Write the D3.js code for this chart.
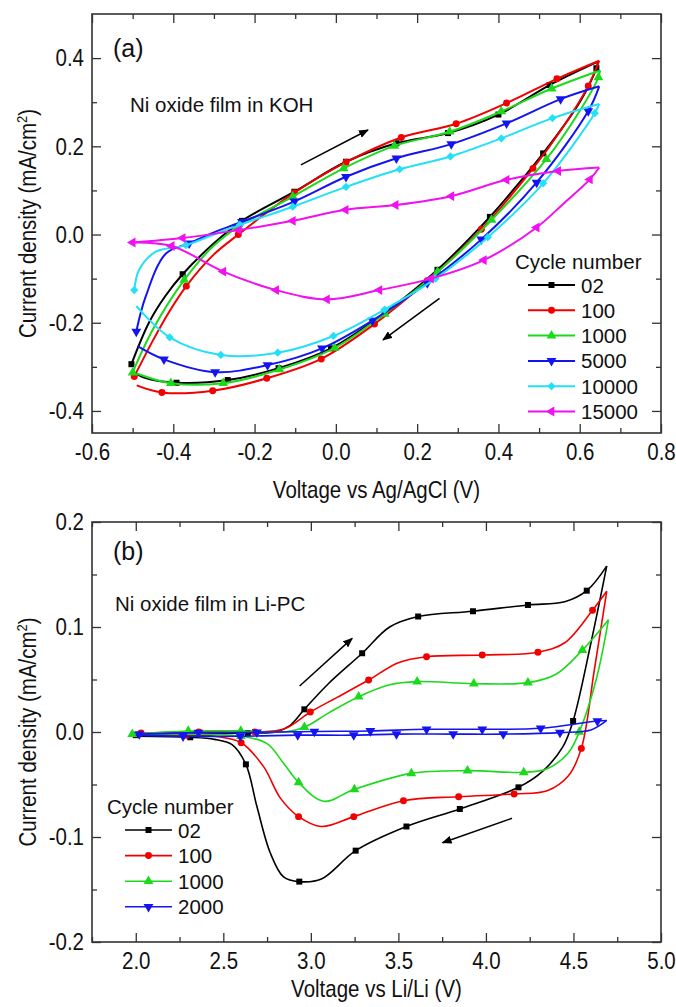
<!DOCTYPE html>
<html>
<head>
<meta charset="utf-8">
<script src="https://cdn.jsdelivr.net/npm/d3@7/dist/d3.min.js"></script>
<style>
  body { margin: 0; background: #fff; }
  svg text { font-family: "Liberation Sans", Arial, sans-serif; fill: #111; }
  .tall { transform-box: fill-box; transform-origin: center; transform: scaleY(1.18); }
</style>
</head>
<body>
<div id="chart"></div>
<script>
// ---- panel (a): Ni oxide film in KOH, [V vs Ag/AgCl, mA/cm2, has symbol] ----
const cyclesA = ["02", "100", "1000", "5000", "10000", "15000"];
const koh02 = [[-0.503,-0.294,1],[-0.46,-0.2,0],[-0.42,-0.14,0],[-0.377,-0.09,1],[-0.3,-0.02,0],[-0.231,0.031,1],
  [-0.102,0.097,1],[0.025,0.165,1],[0.149,0.207,1],[0.276,0.23,1],[0.40,0.272,1],[0.526,0.339,1],[0.645,0.392,0],
  [0.641,0.377,1],[0.6,0.3,0],[0.51,0.184,1],[0.44,0.105,0],[0.379,0.04,1],[0.25,-0.08,1],[0.12,-0.178,1],
  [-0.012,-0.258,1],[-0.141,-0.303,1],[-0.266,-0.33,1],[-0.392,-0.336,1],[-0.47,-0.325,0],[-0.5,-0.31,0]];
const koh100 = [[-0.496,-0.322,1],[-0.45,-0.24,0],[-0.41,-0.175,0],[-0.368,-0.117,1],[-0.3,-0.045,0],[-0.24,0.0,1],
  [-0.17,0.05,0],[-0.102,0.095,1],[0.025,0.164,1],[0.161,0.22,1],[0.296,0.251,1],[0.42,0.298,1],[0.544,0.353,1],
  [0.648,0.394,0],[0.621,0.337,1],[0.56,0.245,0],[0.485,0.15,1],[0.358,0.012,1],[0.225,-0.105,1],[0.095,-0.203,1],
  [-0.036,-0.282,1],[-0.17,-0.326,1],[-0.303,-0.354,1],[-0.428,-0.358,1],[-0.49,-0.342,0]];
const koh1000 = [[-0.5,-0.313,1],[-0.45,-0.215,0],[-0.373,-0.103,1],[-0.3,-0.025,0],[-0.24,0.018,1],[-0.106,0.086,1],
  [0.019,0.15,1],[0.144,0.201,1],[0.28,0.233,1],[0.407,0.279,1],[0.531,0.331,1],[0.65,0.372,0],[0.646,0.356,1],
  [0.6,0.28,0],[0.518,0.171,1],[0.383,0.033,1],[0.25,-0.085,1],[0.12,-0.18,1],[-0.003,-0.257,1],[-0.139,-0.306,1],
  [-0.277,-0.337,1],[-0.406,-0.337,1],[-0.49,-0.315,0]];
const koh5000 = [[-0.491,-0.22,1],[-0.468,-0.141,0],[-0.418,-0.043,0],[-0.361,-0.02,1],[-0.3,0.005,0],[-0.231,0.029,1],
  [-0.102,0.075,1],[0.025,0.131,1],[0.149,0.173,1],[0.284,0.205,1],[0.42,0.252,1],[0.553,0.307,1],[0.648,0.336,0],
  [0.621,0.28,1],[0.494,0.118,1],[0.358,-0.011,1],[0.225,-0.11,1],[0.09,-0.195,1],[-0.034,-0.258,1],
  [-0.168,-0.296,1],[-0.297,-0.312,1],[-0.423,-0.283,1],[-0.488,-0.253,0]];
const koh10000 = [[-0.496,-0.126,1],[-0.484,-0.08,0],[-0.443,-0.039,0],[-0.369,-0.024,1],[-0.3,0.0,0],[-0.236,0.022,1],
  [-0.106,0.063,1],[0.025,0.108,1],[0.157,0.148,1],[0.282,0.177,1],[0.407,0.218,1],[0.533,0.264,1],[0.648,0.296,0],
  [0.637,0.275,1],[0.51,0.116,1],[0.374,-0.006,1],[0.245,-0.1,1],[0.12,-0.17,1],[-0.006,-0.23,1],[-0.143,-0.268,1],
  [-0.283,-0.273,1],[-0.409,-0.233,1],[-0.491,-0.162,0]];
const koh15000 = [[-0.5,-0.018,1],[-0.377,-0.008,1],[-0.239,0.01,1],[-0.106,0.031,1],[0.024,0.056,1],[0.147,0.067,1],
  [0.284,0.087,1],[0.42,0.124,1],[0.547,0.144,1],[0.648,0.152,0],[0.625,0.125,1],[0.56,0.07,0],[0.494,0.016,1],
  [0.364,-0.058,1],[0.234,-0.1,1],[0.107,-0.126,1],[-0.022,-0.147,1],[-0.147,-0.126,1],[-0.277,-0.084,1],
  [-0.404,-0.026,1],[-0.5,-0.018,0]];
const xTicksA = [-0.6, -0.4, -0.2, 0.0, 0.2, 0.4, 0.6, 0.8];
const xLabelsA = ["-0.6", "-0.4", "-0.2", "0.0", "0.2", "0.4", "0.6", "0.8"];
const xMinorA = [-0.5, -0.3, -0.1, 0.1, 0.3, 0.5, 0.7];
const yTicksA = [-0.4, -0.2, 0.0, 0.2, 0.4];
const yLabelsA = ["-0.4", "-0.2", "0.0", "0.2", "0.4"];
const yMinorA = [-0.3, -0.1, 0.1, 0.3];
const arrowsA = [[-0.086, 0.158, 0.079, 0.237], [0.255, -0.145, 0.116, -0.239]];

// ---- panel (b): Ni oxide film in Li-PC, [V vs Li/Li, mA/cm2, has symbol] ----
const cyclesB = ["02", "100", "1000", "2000"];
const lipc02 = [[2.0,-0.003,1],[2.32,-0.002,1],[2.64,-0.001,1],[2.8,0.0,0],[2.88,0.006,0],[2.963,0.0216,1],[3.1,0.046,0],
  [3.293,0.075,1],[3.45,0.1,0],[3.613,0.11,1],[3.926,0.115,1],[4.24,0.121,1],[4.45,0.124,0],[4.576,0.1346,1],
  [4.69,0.158,0],[4.6,0.085,0],[4.498,0.0105,1],[4.44,-0.014,0],[4.32,-0.038,0],[4.186,-0.0527,1],
  [3.851,-0.0733,1],[3.546,-0.09,1],[3.256,-0.113,1],[3.06,-0.14,0],[2.934,-0.1425,1],[2.844,-0.138,0],
  [2.768,-0.115,0],[2.692,-0.071,0],[2.629,-0.0308,1],[2.55,-0.012,0],[2.45,-0.007,0],[2.311,-0.005,1],[2.0,-0.004,0]];
const lipc100 = [[2.03,-0.001,1],[2.36,0.0,1],[2.68,0.0,1],[2.85,0.003,0],[2.997,0.019,1],[3.15,0.033,0],[3.33,0.0495,1],
  [3.5,0.066,0],[3.661,0.0717,1],[3.979,0.0733,1],[4.297,0.076,1],[4.45,0.085,0],[4.609,0.116,1],[4.69,0.134,0],
  [4.62,0.06,0],[4.545,-0.0156,1],[4.47,-0.042,0],[4.35,-0.056,0],[4.161,-0.059,1],[3.844,-0.0616,1],
  [3.529,-0.0654,1],[3.245,-0.0806,1],[3.06,-0.09,0],[2.93,-0.0806,1],[2.826,-0.063,0],[2.73,-0.033,0],
  [2.602,-0.0102,1],[2.45,-0.004,0],[2.29,-0.003,1],[2.0,-0.003,0]];
const lipc1000 = [[1.98,-0.002,1],[2.3,0.001,1],[2.6,0.001,1],[2.85,0.0,0],[2.963,0.0045,1],[3.1,0.018,0],
  [3.273,0.0336,1],[3.45,0.045,0],[3.607,0.048,1],[3.931,0.046,1],[4.24,0.047,1],[4.4,0.055,0],[4.551,0.078,1],
  [4.70,0.107,0],[4.63,0.05,0],[4.533,0.0,1],[4.47,-0.02,0],[4.35,-0.035,0],[4.216,-0.0384,1],[3.895,-0.0368,1],
  [3.574,-0.0394,1],[3.249,-0.0546,1],[3.073,-0.066,0],[2.93,-0.048,1],[2.845,-0.03,0],[2.75,-0.011,0],
  [2.6,-0.004,1],[2.28,-0.002,0],[2.0,-0.002,0]];
const lipc2000 = [[2.02,-0.002,1],[2.358,-0.0006,1],[2.692,-0.0003,1],[3.02,0.0005,1],[3.34,0.001,1],[3.661,0.0026,1],
  [3.979,0.0026,1],[4.313,0.0035,1],[4.637,0.0105,1],[4.69,0.011,0],[4.6,0.002,0],[4.423,-0.0006,1],
  [4.099,-0.002,1],[3.813,-0.002,1],[3.489,-0.002,1],[3.245,-0.003,1],[2.925,-0.003,1],[2.597,-0.004,1],
  [2.27,-0.004,1],[2.0,-0.003,0]];
const xTicksB = [2.0, 2.5, 3.0, 3.5, 4.0, 4.5, 5.0];
const xLabelsB = ["2.0", "2.5", "3.0", "3.5", "4.0", "4.5", "5.0"];
const xMinorB = [1.75, 2.25, 2.75, 3.25, 3.75, 4.25, 4.75];
const yTicksB = [-0.2, -0.1, 0.0, 0.1, 0.2];
const yLabelsB = ["-0.2", "-0.1", "0.0", "0.1", "0.2"];
const yMinorB = [-0.15, -0.05, 0.05, 0.15];
const arrowsB = [[2.936, 0.0438, 3.236, 0.0892], [4.149, -0.0822, 3.752, -0.1054]];

const colors = ["#000000", "#f20000", "#1cd91c", "#1414f0", "#22e0f5", "#f010f0"];
// square, circle, up, down, diamond, left
const shapes = [
    { s: d3.symbolSquare, r: 0, size: 36 },
    { s: d3.symbolCircle, r: 0, size: 38 },
    { s: d3.symbolTriangle, r: 0, size: 42 },
    { s: d3.symbolTriangle, r: 180, size: 42 },
    { s: d3.symbolSquare, r: 45, size: 34 },
    { s: d3.symbolTriangle, r: -90, size: 42 }
];

const width = 676, height = 1007;
const left = 92, right = 661;

const svg = d3.select("#chart").append("svg")
    .attr("width", width)
    .attr("height", height);

const defs = svg.append("defs");
defs.append("marker")
    .attr("id", "head")
    .attr("viewBox", "0 0 10 8")
    .attr("refX", 9).attr("refY", 4)
    .attr("markerWidth", 10).attr("markerHeight", 8)
    .attr("markerUnits", "userSpaceOnUse")
    .attr("orient", "auto")
    .append("path").attr("d", "M0,0L10,4L0,8Z").attr("fill", "#000");

function styleAxis(sel, minor) {
    sel.select(".domain").remove();
    sel.selectAll(".tick line").attr("stroke", "#333").attr("stroke-width", 1.3);
    sel.attr("font-size", 20.5).attr("font-family", null);
    sel.selectAll("text").attr("fill", "#111").classed("tall", true);
    if (minor) sel.selectAll("text").remove();
}

function drawPanel(p) {
    const x = d3.scaleLinear().domain(p.xDomain).range([left, right]);
    const y = d3.scaleLinear().domain(p.yDomain).range([p.bottom, p.top]);
    const g = svg.append("g");

    // ticks on all four sides, pointing inwards
    g.append("g").attr("transform", `translate(0,${p.bottom})`)
        .call(d3.axisBottom(x).tickValues(p.xTicks).tickSize(-9).tickPadding(p.xPad)
            .tickFormat((d, i) => p.xLabels[i]))
        .call(s => styleAxis(s, false));
    g.append("g").attr("transform", `translate(0,${p.bottom})`)
        .call(d3.axisBottom(x).tickValues(p.xMinor).tickSize(-5).tickFormat(""))
        .call(s => styleAxis(s, true));
    g.append("g").attr("transform", `translate(0,${p.top})`)
        .call(d3.axisTop(x).tickValues(p.xTicks).tickSize(-9).tickFormat(""))
        .call(s => styleAxis(s, true));
    g.append("g").attr("transform", `translate(0,${p.top})`)
        .call(d3.axisTop(x).tickValues(p.xMinor).tickSize(-5).tickFormat(""))
        .call(s => styleAxis(s, true));
    g.append("g").attr("transform", `translate(${left},0)`)
        .call(d3.axisLeft(y).tickValues(p.yTicks).tickSize(-9).tickPadding(8)
            .tickFormat((d, i) => p.yLabels[i]))
        .call(s => styleAxis(s, false));
    g.append("g").attr("transform", `translate(${left},0)`)
        .call(d3.axisLeft(y).tickValues(p.yMinor).tickSize(-5).tickFormat(""))
        .call(s => styleAxis(s, true));
    g.append("g").attr("transform", `translate(${right},0)`)
        .call(d3.axisRight(y).tickValues(p.yTicks).tickSize(-9).tickFormat(""))
        .call(s => styleAxis(s, true));
    g.append("g").attr("transform", `translate(${right},0)`)
        .call(d3.axisRight(y).tickValues(p.yMinor).tickSize(-5).tickFormat(""))
        .call(s => styleAxis(s, true));

    g.append("rect")
        .attr("x", left).attr("y", p.top)
        .attr("width", right - left).attr("height", p.bottom - p.top)
        .attr("fill", "none").attr("stroke", "#333").attr("stroke-width", 1.6);

    // curves: split at the turning potential so the vertex stays sharp
    const line = d3.line()
        .x(d => x(d[0]))
        .y(d => y(d[1]))
        .curve(d3.curveCatmullRom.alpha(0.5));

    p.series.forEach((pts, k) => {
        const turn = d3.maxIndex(pts, d => d[0]);
        [pts.slice(0, turn + 1), pts.slice(turn)].forEach(seg => {
            g.append("path")
                .attr("d", line(seg))
                .attr("fill", "none")
                .attr("stroke", colors[k])
                .attr("stroke-width", p.lw);
        });
        const sh = shapes[p.shapes[k]];
        g.selectAll(null)
            .data(pts.filter(d => d[2]))
            .join("path")
            .attr("transform", d => `translate(${x(d[0])},${y(d[1])}) rotate(${sh.r})`)
            .attr("d", d3.symbol(sh.s, sh.size))
            .attr("fill", colors[k]);
    });

    // scan direction arrows
    p.arrows.forEach(a => {
        g.append("line")
            .attr("x1", x(a[0])).attr("y1", y(a[1]))
            .attr("x2", x(a[2])).attr("y2", y(a[3]))
            .attr("stroke", "#000").attr("stroke-width", 1.5)
            .attr("marker-end", "url(#head)");
    });

    // legend
    const lg = g.append("g").attr("font-size", 20.5);
    lg.append("text").attr("x", p.legend.x).attr("y", p.legend.y).text("Cycle number");
    p.names.forEach((name, k) => {
        const cy = p.legend.y + 16 + k * p.legend.step;
        const lx = p.legend.x + p.legend.indent;
        lg.append("line")
            .attr("x1", lx).attr("x2", lx + 47)
            .attr("y1", cy).attr("y2", cy)
            .attr("stroke", colors[k]).attr("stroke-width", p.lw);
        const sh = shapes[p.shapes[k]];
        lg.append("path")
            .attr("transform", `translate(${lx + 23.5},${cy}) rotate(${sh.r})`)
            .attr("d", d3.symbol(sh.s, sh.size))
            .attr("fill", colors[k]);
        lg.append("text").attr("x", lx + 53).attr("y", cy + 7.5).text(name);
    });

    // labels
    g.append("text").attr("x", left + 21).attr("y", p.top + p.tagDy)
        .attr("font-size", 25).text(p.tag);
    g.append("text").attr("x", p.note.x).attr("y", p.note.y)
        .attr("font-size", 20.5).text(p.note.text);

    g.append("text")
        .attr("x", (left + right) / 2).attr("y", p.titleY)
        .attr("text-anchor", "middle").attr("font-size", 20.5)
        .attr("class", "tall")
        .text(p.xTitle);

    const yt = g.append("g")
        .attr("transform", `translate(35,${(p.top + p.bottom) / 2}) rotate(-90)`);
    const t = yt.append("text")
        .attr("text-anchor", "middle").attr("font-size", 20.5)
        .attr("class", "tall");
    t.append("tspan").text("Current density (mA/cm");
    t.append("tspan").attr("font-size", 13).attr("dy", -8).text("2");
    t.append("tspan").attr("dy", 8).text(")");
}

drawPanel({
    xDomain: [-0.6, 0.8], yDomain: [-0.45, 0.5], top: 14, bottom: 433,
    xTicks: xTicksA, xLabels: xLabelsA, xMinor: xMinorA,
    yTicks: yTicksA, yLabels: yLabelsA, yMinor: yMinorA, xPad: 11.5,
    series: [koh02, koh100, koh1000, koh5000, koh10000, koh15000],
    shapes: [0, 1, 2, 3, 4, 5], names: cyclesA, lw: 2,
    arrows: arrowsA,
    legend: { x: 515, y: 269, indent: 13, step: 25.3 },
    tag: "(a)", tagDy: 43,
    note: { x: 130, y: 111.5, text: "Ni oxide film in KOH" },
    xTitle: "Voltage vs Ag/AgCl (V)", titleY: 497
});

drawPanel({
    xDomain: [1.75, 5.0], yDomain: [-0.2, 0.2], top: 522, bottom: 942,
    xTicks: xTicksB, xLabels: xLabelsB, xMinor: xMinorB,
    yTicks: yTicksB, yLabels: yLabelsB, yMinor: yMinorB, xPad: 11,
    series: [lipc02, lipc100, lipc1000, lipc2000],
    shapes: [0, 1, 2, 3], names: cyclesB, lw: 1.6,
    arrows: arrowsB,
    legend: { x: 107, y: 814, indent: 18, step: 25.6 },
    tag: "(b)", tagDy: 38,
    note: { x: 115, y: 610.5, text: "Ni oxide film in Li-PC" },
    xTitle: "Voltage vs Li/Li (V)", titleY: 996
});
</script>
</body>
</html>
